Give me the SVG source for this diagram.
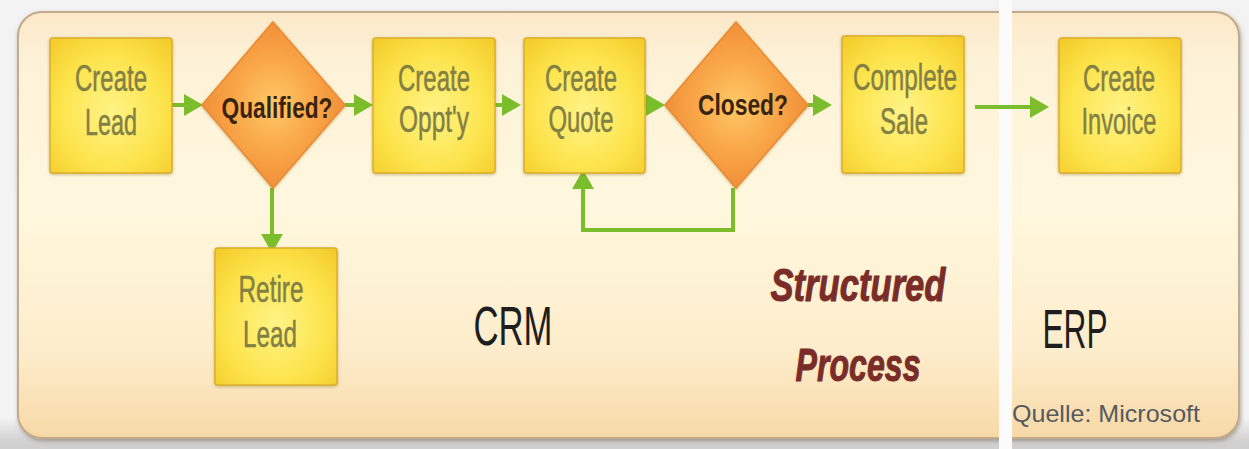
<svg xmlns="http://www.w3.org/2000/svg" width="1249" height="449" viewBox="0 0 1249 449">
<defs>
<linearGradient id="bgOut" x1="0" y1="0" x2="0" y2="1">
<stop offset="0" stop-color="#f3f3f3"/>
<stop offset="0.93" stop-color="#f4f4f4"/>
<stop offset="0.98" stop-color="#d2d2d2"/>
<stop offset="1" stop-color="#cfcfcf"/>
</linearGradient>
<linearGradient id="panel" x1="0" y1="0" x2="0" y2="1">
<stop offset="0" stop-color="#fbe8c8"/>
<stop offset="0.12" stop-color="#fdf2d8"/>
<stop offset="0.45" stop-color="#fff8de"/>
<stop offset="0.8" stop-color="#fdeccb"/>
<stop offset="1" stop-color="#f7d9a6"/>
</linearGradient>
<radialGradient id="box" cx="0.5" cy="0.55" r="0.7">
<stop offset="0" stop-color="#fff386"/>
<stop offset="0.6" stop-color="#fde44c"/>
<stop offset="1" stop-color="#f4cd2c"/>
</radialGradient>
<radialGradient id="dia" cx="0.5" cy="0.5" r="0.55">
<stop offset="0" stop-color="#ffc966"/>
<stop offset="0.55" stop-color="#f9a447"/>
<stop offset="1" stop-color="#ef8a36"/>
</radialGradient>
<filter id="sh" x="-10%" y="-10%" width="120%" height="120%">
<feDropShadow dx="0" dy="1" stdDeviation="1.5" flood-color="#8a6a20" flood-opacity="0.45"/>
</filter>
<filter id="psh" x="-5%" y="-5%" width="110%" height="115%">
<feDropShadow dx="1" dy="2" stdDeviation="2" flood-color="#6b5a40" flood-opacity="0.5"/>
</filter>
<marker id="ah" markerUnits="userSpaceOnUse" markerWidth="20" markerHeight="22" refX="15" refY="11" orient="auto">
<path d="M0,0 L19,11 L0,22 z" fill="#7cbd2c"/>
</marker>
<style>
.box{fill:url(#box);stroke:#dcae2a;stroke-width:1.5;filter:url(#sh)}
.dia{fill:url(#dia);stroke:#ea8a30;stroke-width:1.5;filter:url(#sh)}
.bt{font-family:"Liberation Sans",Arial,sans-serif;font-size:36px;fill:#838043;stroke:#838043;stroke-width:0.5;text-anchor:middle}
.dt{font-family:"Liberation Sans",Arial,sans-serif;font-size:30px;font-weight:bold;fill:#3a2410;text-anchor:middle}
.con{fill:none;stroke:#7cbd2c;stroke-width:4;marker-end:url(#ah)}
.big{font-family:"Liberation Sans",Arial,sans-serif;font-size:55px;fill:#1e1e1e;text-anchor:middle}
.sp{font-family:"Liberation Sans",Arial,sans-serif;font-size:47px;font-weight:bold;font-style:italic;fill:#7a2c28;stroke:#7a2c28;stroke-width:1;text-anchor:middle}
</style>
</defs>
<rect x="0" y="0" width="1249" height="449" fill="url(#bgOut)"/>
<rect x="18" y="12" width="1221" height="426" rx="24" fill="url(#panel)" stroke="#c2ab8c" stroke-width="2" filter="url(#psh)"/>
<rect x="999" y="0" width="13" height="449" fill="#fbfbfb"/>

<g id="connectors">
<path class="con" d="M168,105 H199"/>
<path class="con" d="M345,105 H369"/>
<path class="con" d="M495,105 H517"/>
<path class="con" d="M645,105 H661"/>
<path class="con" d="M808,105 H828"/>
<path class="con" d="M975,107 H1045"/>
<path class="con" d="M272,188 V249"/>
<path class="con" d="M733,188 V230 H583 V174"/>
</g>

<g id="create-lead">
<rect class="box" x="50" y="38" width="122" height="135" rx="3"/>
<text class="bt" x="111" y="91" textLength="72" lengthAdjust="spacingAndGlyphs">Create</text>
<text class="bt" x="111" y="135" textLength="52" lengthAdjust="spacingAndGlyphs">Lead</text>
</g>
<g id="qualified">
<path class="dia" d="M273,22 L345,105 L273,188 L202,105 z"/>
<text class="dt" x="277" y="118" textLength="111" lengthAdjust="spacingAndGlyphs">Qualified?</text>
</g>
<g id="create-oppty">
<rect class="box" x="373" y="38" width="122" height="135" rx="3"/>
<text class="bt" x="434" y="91" textLength="72" lengthAdjust="spacingAndGlyphs">Create</text>
<text class="bt" x="434" y="132" textLength="70" lengthAdjust="spacingAndGlyphs">Oppt'y</text>
</g>
<g id="create-quote">
<rect class="box" x="524" y="38" width="121" height="135" rx="3"/>
<text class="bt" x="581" y="91" textLength="72" lengthAdjust="spacingAndGlyphs">Create</text>
<text class="bt" x="581" y="132" textLength="65" lengthAdjust="spacingAndGlyphs">Quote</text>
</g>
<g id="closed">
<path class="dia" d="M736,22 L808,105 L736,188 L665,105 z"/>
<text class="dt" x="743" y="115" textLength="90" lengthAdjust="spacingAndGlyphs">Closed?</text>
</g>
<g id="complete-sale">
<rect class="box" x="842" y="36" width="122" height="137" rx="3"/>
<text class="bt" x="905" y="90" textLength="104" lengthAdjust="spacingAndGlyphs">Complete</text>
<text class="bt" x="904" y="134" textLength="48" lengthAdjust="spacingAndGlyphs">Sale</text>
</g>
<g id="create-invoice">
<rect class="box" x="1059" y="38" width="122" height="135" rx="3"/>
<text class="bt" x="1119" y="91" textLength="72" lengthAdjust="spacingAndGlyphs">Create</text>
<text class="bt" x="1119" y="134" textLength="75" lengthAdjust="spacingAndGlyphs">Invoice</text>
</g>
<g id="retire-lead">
<rect class="box" x="215" y="248" width="122" height="137" rx="3"/>
<text class="bt" x="271" y="302" textLength="65" lengthAdjust="spacingAndGlyphs">Retire</text>
<text class="bt" x="270" y="347" textLength="54" lengthAdjust="spacingAndGlyphs">Lead</text>
</g>

<g id="labels">
<text class="big" x="513" y="345" textLength="79" lengthAdjust="spacingAndGlyphs">CRM</text>
<text class="big" x="1075" y="348" font-size="50" textLength="65" lengthAdjust="spacingAndGlyphs">ERP</text>
<text class="sp" x="858" y="301" textLength="175" lengthAdjust="spacingAndGlyphs">Structured</text>
<text class="sp" x="858" y="381" textLength="125" lengthAdjust="spacingAndGlyphs">Process</text>
<text x="1012" y="422" font-family="'Liberation Sans',Arial,sans-serif" font-size="24" fill="#565a60" textLength="188" lengthAdjust="spacingAndGlyphs">Quelle: Microsoft</text>
</g>
</svg>
